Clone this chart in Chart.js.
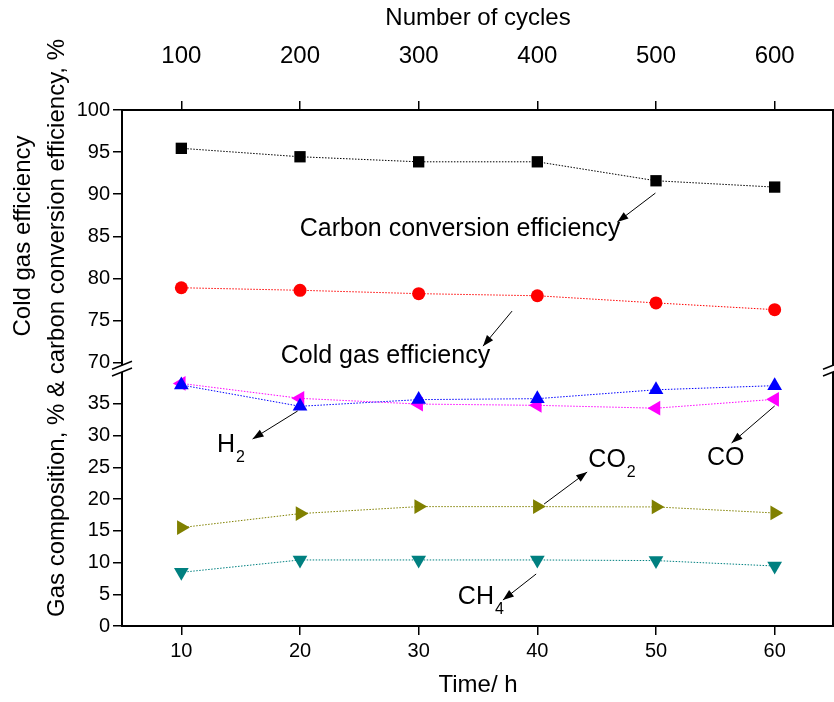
<!DOCTYPE html>
<html>
<head>
<meta charset="utf-8">
<script src="https://cdn.jsdelivr.net/npm/chart.js@4/dist/chart.umd.min.js"></script>
<style>
  html, body { margin: 0; padding: 0; background: #fff; }
  #wrap { width: 834px; height: 702px; }
</style>
</head>
<body>
<div id="wrap"><canvas id="chart" width="834" height="702"></canvas></div>
<script>
// data
const timeHours = [10, 20, 30, 40, 50, 60];
const cycleLabels = ['100', '200', '300', '400', '500', '600'];
const lowTicks = [0, 5, 10, 15, 20, 25, 30, 35];
const highTicks = [70, 75, 80, 85, 90, 95, 100];

const carbonConv = [95.45, 94.45, 93.85, 93.85, 91.6, 90.85];
const coldGas = [78.9, 78.6, 78.2, 77.95, 77.1, 76.3];
const h2 = [37.95, 34.6, 35.65, 35.8, 37.2, 37.85];
const co = [38.2, 35.85, 34.95, 34.75, 34.3, 35.7];
const co2 = [15.5, 17.7, 18.8, 18.8, 18.75, 17.8];
const ch4 = [8.45, 10.4, 10.4, 10.4, 10.3, 9.45];

// labels + arrows, in data units
const notes = [
    { text: 'Carbon conversion efficiency', x: 33.48, y: 85.03, axis: 'yHigh', align: 'center' },
    { text: 'Cold gas efficiency', x: 27.2, y: 69.95, axis: 'yHigh', align: 'center' },
    { text: 'H', sub: '2', x: 13.0, y: 27.4, axis: 'yLow', align: 'left' },
    { text: 'CO', x: 54.3, y: 25.35, axis: 'yLow', align: 'left' },
    { text: 'CO', sub: '2', x: 44.3, y: 25.0, axis: 'yLow', align: 'left' },
    { text: 'CH', sub: '4', x: 33.3, y: 3.46, axis: 'yLow', align: 'left' }
];
const arrows = [
    { from: [49.95, 90.14], to: [46.74, 86.7], axis: 'yHigh' },
    { from: [37.87, 76.13], to: [35.42, 71.97], axis: 'yHigh' },
    { from: [19.8, 33.86], to: [16.0, 29.45], axis: 'yLow' },
    { from: [60.0, 34.65], to: [56.37, 28.82], axis: 'yLow' },
    { from: [40.57, 19.21], to: [44.2, 24.25], axis: 'yLow' },
    { from: [39.9, 8.19], to: [37.1, 4.09], axis: 'yLow' }
];

const FONT = "'Liberation Sans', Arial, sans-serif";

function series(label, values, color, style, rotation, radius, axis) {
    return {
        label: label,
        data: timeHours.map((t, i) => ({ x: t, y: values[i] })),
        xAxisID: 'x',
        yAxisID: axis,
        borderColor: color,
        backgroundColor: color,
        borderWidth: 1,
        borderDash: [1.5, 1.5],
        pointStyle: style,
        rotation: rotation,
        pointRadius: radius,
        pointBorderWidth: 0,
        pointBackgroundColor: color,
        tension: 0,
        clip: false
    };
}

const extras = {
    id: 'extras',
    afterDraw(chart) {
        const ctx = chart.ctx;
        const xs = chart.scales.x;
        const area = chart.chartArea;
        const yHigh = chart.scales.yHigh;
        const yLow = chart.scales.yLow;

        ctx.save();
        // right frame line
        ctx.strokeStyle = '#000';
        ctx.lineWidth = 2;
        ctx.beginPath();
        ctx.moveTo(area.right - 1, area.top);
        ctx.lineTo(area.right - 1, area.bottom);
        ctx.stroke();

        // axis break
        const gapTop = yHigh.getPixelForValue(69.7);
        const gapBot = yLow.top;
        [area.left, area.right - 1].forEach(ax => {
            ctx.fillStyle = '#fff';
            ctx.fillRect(ax - 2, gapTop, 4, gapBot - gapTop);
            ctx.strokeStyle = '#000';
            ctx.lineWidth = 1.5;
            [gapTop, gapBot].forEach(yy => {
                ctx.beginPath();
                ctx.moveTo(ax - 10, yy + 4);
                ctx.lineTo(ax + 10, yy - 4);
                ctx.stroke();
            });
        });

        // arrows
        ctx.fillStyle = '#000';
        ctx.strokeStyle = '#000';
        ctx.lineWidth = 1;
        arrows.forEach(a => {
            const ys = chart.scales[a.axis];
            const x1 = xs.getPixelForValue(a.from[0]), y1 = ys.getPixelForValue(a.from[1]);
            const x2 = xs.getPixelForValue(a.to[0]), y2 = ys.getPixelForValue(a.to[1]);
            const ang = Math.atan2(y2 - y1, x2 - x1);
            ctx.beginPath();
            ctx.moveTo(x1, y1);
            ctx.lineTo(x2, y2);
            ctx.stroke();
            ctx.beginPath();
            ctx.moveTo(x2, y2);
            ctx.lineTo(x2 - 11 * Math.cos(ang) + 4 * Math.sin(ang), y2 - 11 * Math.sin(ang) - 4 * Math.cos(ang));
            ctx.lineTo(x2 - 11 * Math.cos(ang) - 4 * Math.sin(ang), y2 - 11 * Math.sin(ang) + 4 * Math.cos(ang));
            ctx.closePath();
            ctx.fill();
        });

        // text labels
        ctx.textBaseline = 'alphabetic';
        notes.forEach(n => {
            const ys = chart.scales[n.axis];
            const px = xs.getPixelForValue(n.x);
            const py = ys.getPixelForValue(n.y);
            ctx.font = '25px ' + FONT;
            ctx.textAlign = n.align;
            ctx.fillText(n.text, px, py);
            if (n.sub) {
                const w = ctx.measureText(n.text).width;
                ctx.font = '16px ' + FONT;
                ctx.textAlign = 'left';
                ctx.fillText(n.sub, px + w + 1, py + 10);
            }
        });

        // left axis titles (two rotated lines)
        ctx.font = '24px ' + FONT;
        ctx.textAlign = 'center';
        ctx.textBaseline = 'middle';
        ctx.translate(23, 236);
        ctx.rotate(-Math.PI / 2);
        ctx.fillText('Cold gas efficiency', 0, 0);
        ctx.rotate(Math.PI / 2);
        ctx.translate(34, 92);
        ctx.rotate(-Math.PI / 2);
        ctx.fillText('Gas composition, % & carbon conversion efficiency, %', 0, 0);
        ctx.restore();
    }
};

const tickGrid = { drawOnChartArea: false, tickLength: 9, color: '#000', lineWidth: 1.5 };
const frame = { display: true, color: '#000', width: 2 };

function noPadX(s, h) {
    s.height = h;
    s.paddingLeft = 0;
    s.paddingRight = 0;
}
function noPadY(s) {
    s.width = 122;
    s.paddingTop = 0;
    s.paddingBottom = 0;
}

new Chart(document.getElementById('chart'), {
    type: 'line',
    data: {
        datasets: [
            series('Carbon conversion efficiency', carbonConv, '#000000', 'rect', 0, 8, 'yHigh'),
            series('Cold gas efficiency', coldGas, '#ff0000', 'circle', 0, 6.5, 'yHigh'),
            series('H2', h2, '#0000ff', 'triangle', 0, 8.5, 'yLow'),
            series('CO', co, '#ff00ff', 'triangle', 270, 8.5, 'yLow'),
            series('CO2', co2, '#808000', 'triangle', 90, 8.5, 'yLow'),
            series('CH4', ch4, '#008080', 'triangle', 180, 8.5, 'yLow')
        ]
    },
    options: {
        responsive: false,
        animation: false,
        layout: { padding: 0, autoPadding: false },
        plugins: {
            legend: { display: false },
            tooltip: { enabled: false }
        },
        scales: {
            x: {
                type: 'linear',
                position: 'bottom',
                min: 5,
                max: 65,
                afterBuildTicks: s => { s.ticks = timeHours.map(v => ({ value: v })); },
                afterFit: s => noPadX(s, 76),
                grid: tickGrid,
                border: frame,
                ticks: { color: '#000', padding: 4, autoSkip: false, maxRotation: 0, font: { family: FONT, size: 20 } },
                title: {
                    display: true,
                    text: 'Time/ h',
                    color: '#000',
                    font: { family: FONT, size: 24 },
                    padding: { top: 0, bottom: 2 }
                }
            },
            x2: {
                type: 'linear',
                position: 'top',
                min: 5,
                max: 65,
                afterBuildTicks: s => { s.ticks = timeHours.map(v => ({ value: v })); },
                afterFit: s => noPadX(s, 110),
                grid: tickGrid,
                border: frame,
                ticks: {
                    color: '#000',
                    padding: 30,
                    autoSkip: false,
                    maxRotation: 0,
                    font: { family: FONT, size: 24 },
                    callback: v => cycleLabels[timeHours.indexOf(v)]
                },
                title: {
                    display: true,
                    text: 'Number of cycles',
                    color: '#000',
                    font: { family: FONT, size: 24 },
                    padding: { top: 4, bottom: 0 }
                }
            },
            yLow: {
                type: 'linear',
                position: 'left',
                stack: 'left',
                stackWeight: 254,
                min: 0,
                max: 40,
                afterBuildTicks: s => { s.ticks = lowTicks.map(v => ({ value: v })); },
                afterFit: noPadY,
                grid: tickGrid,
                border: frame,
                ticks: { color: '#000', padding: 3, autoSkip: false, font: { family: FONT, size: 20 } }
            },
            yHigh: {
                type: 'linear',
                position: 'left',
                stack: 'left',
                stackWeight: 262,
                min: 68.9,
                max: 100,
                afterBuildTicks: s => { s.ticks = highTicks.map(v => ({ value: v })); },
                afterFit: noPadY,
                grid: tickGrid,
                border: frame,
                ticks: { color: '#000', padding: 3, autoSkip: false, font: { family: FONT, size: 20 } }
            }
        }
    },
    plugins: [extras]
});
</script>
</body>
</html>
